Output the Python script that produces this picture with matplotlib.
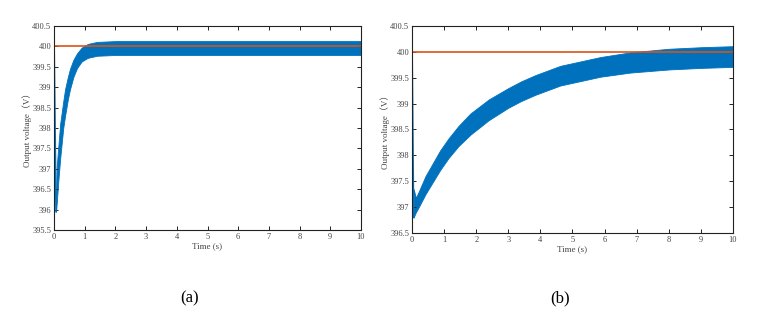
import numpy as np
import matplotlib.pyplot as plt

# envelope of the output voltage ripple
# (a)
t_a = [0.065, 0.087, 0.14, 0.2, 0.3, 0.36, 0.45, 0.52, 0.63, 0.75, 0.9, 1.1, 1.4, 2.0, 3.0, 5.0, 10.0]
lo_a = [395.95, 396.15, 396.7, 397.25, 398.0, 398.3, 398.7, 398.95, 399.25, 399.47, 399.63, 399.72,
        399.77, 399.79, 399.79, 399.79, 399.79]
hi_a = [396.3, 397.05, 397.55, 398.1, 398.65, 398.95, 399.25, 399.45, 399.67, 399.83, 399.97, 400.06,
        400.11, 400.13, 400.13, 400.13, 400.13]
start_a_t = [0.0, 0.005, 0.065]
start_a_v = [400.0, 399.9, 395.95]

# (b)
t_b = [0.05, 0.12, 0.21, 0.42, 0.88, 1.14, 1.45, 1.82, 2.39, 3.0, 3.4, 3.84, 4.62, 5.87, 6.8,
       8.0, 9.0, 10.0]
lo_b = [396.8, 396.9, 397.0, 397.25, 397.72, 397.95, 398.18, 398.4, 398.68, 398.92, 399.05, 399.17,
        399.35, 399.52, 399.6, 399.66, 399.69, 399.71]
hi_b = [397.35, 397.18, 397.3, 397.6, 398.1, 398.33, 398.57, 398.81, 399.08, 399.3, 399.43, 399.55,
        399.73, 399.9, 399.99, 400.06, 400.09, 400.11]
start_b_t = [0.0, 0.005, 0.05]
start_b_v = [400.0, 399.9, 396.8]

ref_v = 400.0
blue = "#0072BD"
red = "#D95319"

plt.rcParams["font.family"] = ["Liberation Serif", "Noto Sans CJK SC"]

fig = plt.figure(figsize=(7.74, 3.19), dpi=100)
ax_a = fig.add_axes([0.0698, 0.279, 0.3966, 0.6395])
ax_b = fig.add_axes([0.5323, 0.2696, 0.4147, 0.6489])


def draw(ax, t, lo, hi, st, sv, ylim, yticks, ylabs):
    ax.fill_between(t, lo, hi, color=blue, linewidth=0.6, edgecolor=blue)
    ax.plot(st, sv, color=blue, linewidth=1.2)
    ax.plot([0, 10], [ref_v, ref_v], color=red, linewidth=1.2)
    ax.set_xlim(0, 10)
    ax.set_ylim(*ylim)
    ax.set_xticks(range(11))
    ax.set_yticks(yticks)
    ax.set_yticklabels(ylabs)
    ax.tick_params(direction="in", top=True, right=True, labelsize=6,
                   length=3, width=0.7, colors="#222222", labelcolor="#444444", pad=2)
    for s in ax.spines.values():
        s.set_linewidth(0.8)
        s.set_color("#222222")
    ax.set_xlabel("Time (s)", fontsize=6.5, color="#444444", labelpad=1)
    ax.set_ylabel("Output voltage（V）", fontsize=6.5, color="#444444", labelpad=0)


ya = np.arange(395.5, 400.51, 0.5)
draw(ax_a, t_a, lo_a, hi_a, start_a_t, start_a_v, (395.5, 400.5), ya,
     ["395.5", "396", "396.5", "397", "397.5", "398", "398.5", "399", "399.5", "400", "400.5"])
yb = np.arange(396.5, 400.51, 0.5)
draw(ax_b, t_b, lo_b, hi_b, start_b_t, start_b_v, (396.5, 400.5), yb,
     ["396.5", "397", "397.5", "398", "398.5", "399", "399.5", "400", "400.5"])

fig.text(190 / 774, 1 - 298 / 319, "(a)", fontsize=12, ha="center", va="center")
fig.text(560 / 774, 1 - 298 / 319, "(b)", fontsize=12, ha="center", va="center")

fig.savefig("out.png", dpi=100)
